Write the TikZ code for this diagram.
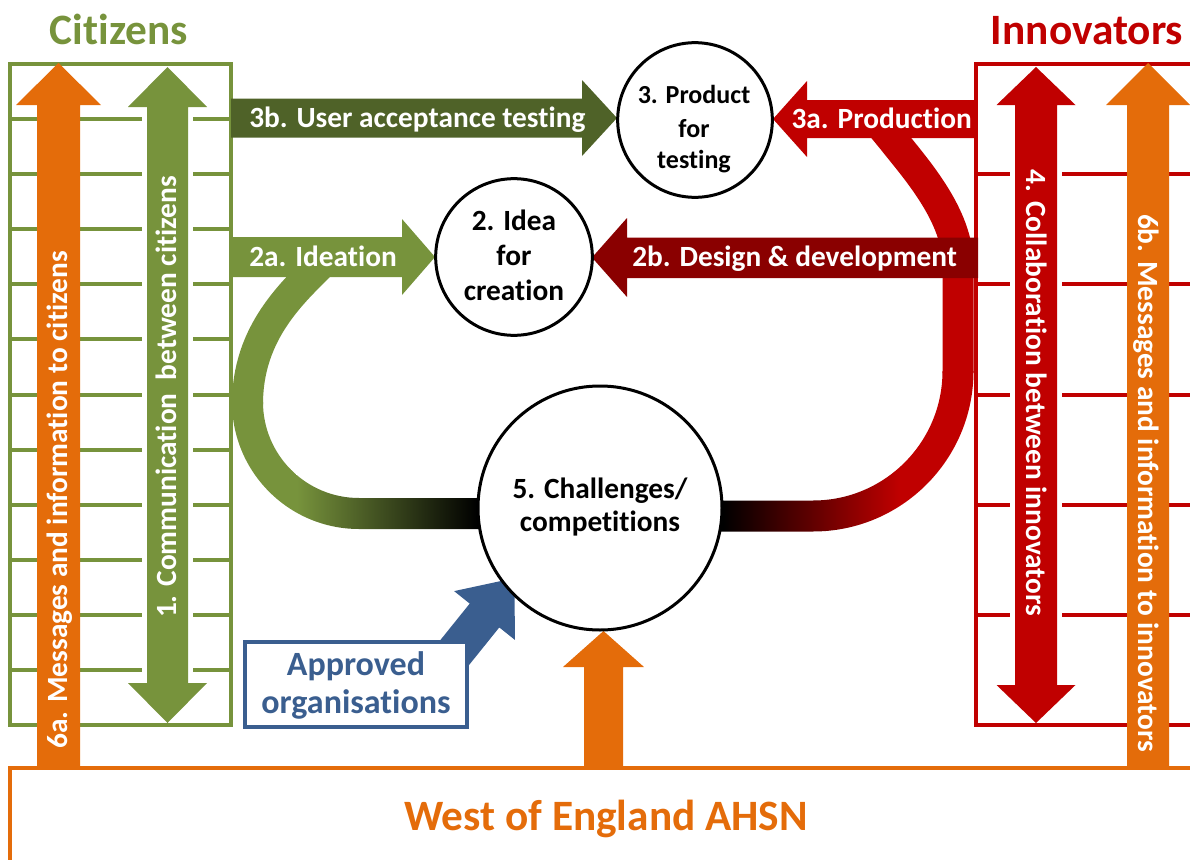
\documentclass[tikz,border=0pt]{standalone}
\usepackage{fontspec}
\setmainfont{Carlito}[RawFeature={-liga;-clig;-calt;-dlig}]
\definecolor{cgreen}{HTML}{77933C}
\definecolor{cdkgreen}{HTML}{4F6228}
\definecolor{cred}{HTML}{C00000}
\definecolor{cdkred}{HTML}{8A0000}
\definecolor{corange}{HTML}{E46C0A}
\definecolor{cblue}{HTML}{3A5E8F}
\begin{document}
\begin{tikzpicture}[x=0.75pt,y=-0.75pt,
  frame/.style={line width=3pt},
  band/.style={line width=23.25pt},
  ring/.style={circle, draw=black, fill=white, line width=2.25pt, inner sep=0pt},
  title/.style={font=\bfseries\fontsize{32.5}{38}\selectfont, inner sep=0pt, anchor=base},
  lbl/.style={font=\bfseries\fontsize{22}{26}\selectfont, text=white, inner sep=0pt},
  ctext/.style={font=\bfseries\fontsize{22}{26}\selectfont, text=black, inner sep=0pt, anchor=base},
  stext/.style={font=\bfseries\fontsize{19.5}{24}\selectfont, text=black, inner sep=0pt, anchor=base},
  btext/.style={font=\bfseries\fontsize{25.5}{30}\selectfont, text=cblue, inner sep=0pt, anchor=base}]
\useasboundingbox (0,0) rectangle (1190,860);

% AHSN frame
\draw[corange, frame] (10,768) rectangle (1205,875);

% Citizens frame
\draw[cgreen, frame] (10,64) rectangle (231,725);
\foreach \k in {1,...,11} \draw[cgreen, frame] (10,{64+55.083*\k}) -- (231,{64+55.083*\k});

% Innovators frame
\draw[cred, frame] (976,64) rectangle (1205,725);
\foreach \k in {1,...,5} \draw[cred, frame] (976,{64+110.17*\k}) -- (1205,{64+110.17*\k});

% green band
\begin{scope}
\clip (232,402) .. controls (232,472.14) and (288.86,529) .. (359,529) -- (490,529) -- (490,498) -- (359,498) .. controls (305.98,498) and (263,455.02) .. (263,402) -- cycle;
\fill[cgreen] (220,390) rectangle (297,540);
\shade[left color=cgreen, right color=black] (297,390) rectangle (477,540);
\fill[black] (477,390) rectangle (495,540);
\end{scope}
\draw[cgreen, band] (330,255) -- (308,277) .. controls (278,307) and (247.5,345) .. (247.5,404);

% red band
\begin{scope}
\clip (973.5,371) .. controls (973.5,459.64) and (901.64,531.5) .. (813,531.5) -- (705,531.5) -- (705,500.5) -- (813,500.5) .. controls (884.52,500.5) and (942.5,442.52) .. (942.5,371) -- cycle;
\fill[black] (700,360) rectangle (723,540);
\shade[left color=black, right color=cred] (723,360) rectangle (900,540);
\fill[cred] (900,360) rectangle (980,540);
\end{scope}
\draw[cred, band] (958,373) -- (958,265) .. controls (958,215) and (915,168) .. (893,140) -- (870,112);

% horizontal block arrows
\fill[cdkgreen] (231,98.5) -- (582,98.5) -- (582,80) -- (617,118) -- (582,156) -- (582,137.5) -- (231,137.5) -- cycle;
\fill[cgreen] (231,237) -- (402,237) -- (402,219) -- (435,257) -- (402,295) -- (402,277) -- (231,277) -- cycle;
\fill[cred] (976,100) -- (807,100) -- (807,81) -- (773,119) -- (807,157) -- (807,138) -- (976,138) -- cycle;
\fill[cdkred] (978,237.5) -- (627,237.5) -- (627,218) -- (592,257.5) -- (627,297) -- (627,278) -- (978,278) -- cycle;

% vertical block arrows
\fill[corange] (37,768) -- (37,105) -- (16,105) -- (58.5,63) -- (101,105) -- (80,105) -- (80,768) -- cycle;
\fill[white] (142,110) rectangle (193,680);
\fill[cgreen] (167.5,67) -- (207,107) -- (188,107) -- (188,683) -- (207,683) -- (167.5,723) -- (128,683) -- (147,683) -- (147,107) -- (128,107) -- cycle;
\fill[white] (1010,110) rectangle (1062,680);
\fill[cred] (1036,67) -- (1075.5,105) -- (1057,105) -- (1057,685) -- (1075.5,685) -- (1036,723) -- (996.5,685) -- (1015,685) -- (1015,105) -- (996.5,105) -- cycle;
\fill[corange] (1127,768) -- (1127,105) -- (1106,105) -- (1148,63) -- (1190,105) -- (1169,105) -- (1169,768) -- cycle;
\fill[corange] (584,768) -- (584,667) -- (563,667) -- (603.5,631) -- (644,667) -- (623,667) -- (623,768) -- cycle;

% blue arrow and box
\fill[cblue] (419.6,665.9) -- (469.7,603.6) -- (454.1,591.1) -- (514.5,578.1) -- (514.9,639.9) -- (499.3,627.4) -- (449.2,689.7) -- cycle;
\draw[cblue, frame, fill=white] (245,642) rectangle (467,727);

% circles
\node[ring, minimum size=116pt] (c3) at (695,120) {};
\node[ring, minimum size=117.5pt] (c2) at (514,257) {};
\node[ring, minimum size=183pt] (c5) at (600,508) {};

% titles
\node[title, text=cgreen] (tcit) at (119,45) {Citizens};
\node[title, text=cred] (tinn) at (1087,44) {Innovators};
\node[title, text=corange] (tahsn) at (606,830) {West of England AHSN};

% arrow labels
\node[lbl, anchor=base west] (l3b) at (249,127.5) {3b. User acceptance testing};
\node[lbl, anchor=base west] (l2a) at (249,266.5) {2a. Ideation};
\node[lbl, anchor=base east] (l3a) at (972,128) {3a. Production};
\node[lbl, anchor=base west] (l2b) at (632,266.5) {2b. Design \& development};
\node[lbl, rotate=90, anchor=base] (l6a) at (67.8,500) {6a. Messages and information to citizens};
\node[lbl, rotate=90, anchor=base] (l1) at (176.8,397) {1. Communication~ between citizens};
\node[lbl, rotate=-90, anchor=base] (l4) at (1026.7,393) {4. Collaboration between innovators};
\node[lbl, rotate=-90, anchor=base] (l6b) at (1138.7,483) {6b. Messages and information to innovators};

% circle texts
\node[ctext] (c2a) at (514,230) {2. Idea};
\node[ctext] (c2b) at (514,265) {for};
\node[ctext] (c2c) at (514,300) {creation};
\node[stext] (c3a) at (694,103) {3. Product};
\node[stext] (c3b) at (694,137) {for};
\node[stext] (c3c) at (694,168) {testing};
\node[ctext] (c5a) at (600,498) {5. Challenges/};
\node[ctext] (c5b) at (600,531) {competitions};

% approved organisations
\node[btext] (ap1) at (356,675) {Approved};
\node[btext] (ap2) at (356,713) {organisations};
\end{tikzpicture}
\end{document}
